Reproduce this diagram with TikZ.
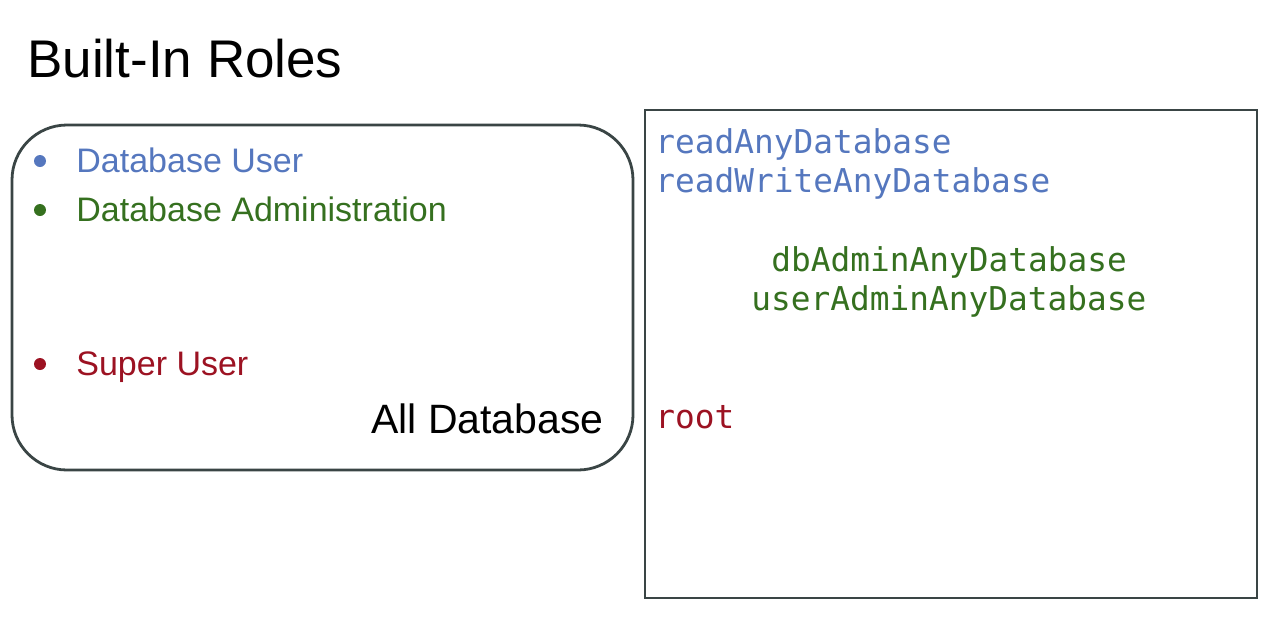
\documentclass[tikz,border=0pt]{standalone}
\usepackage{fontspec}
\setmainfont{Liberation Sans}
\setmonofont{DejaVu Sans Mono}
\usepackage{xcolor}
\usetikzlibrary{positioning}
\definecolor{userblue}{HTML}{5577BE}
\definecolor{admingreen}{HTML}{35701F}
\definecolor{superred}{HTML}{9C1222}
\definecolor{boxgray}{HTML}{3A4545}
\def\allbox{(12,125) rectangle (633,470)}
\def\rolebox{(645,110) rectangle (1257,598)}
\tikzset{
role/.style={anchor=base west, inner sep=0pt, font=\fontsize{34}{40}\selectfont},
code/.style={anchor=base west, inner sep=0pt, font=\ttfamily\fontsize{32.8}{38}\selectfont},
bullet/.style={circle, inner sep=0pt, minimum size=12pt}
}

\begin{document}
\begin{tikzpicture}[x=1pt,y=-1pt,line width=2.8pt]
	\useasboundingbox (0,0) rectangle (1269,619);
	\node[anchor=base west, inner sep=0pt, font=\fontsize{53}{60}\selectfont] (title) at (26,77) {Built-In Roles};
	% the all database box
	\draw[boxgray, rounded corners=55pt] \allbox;
	\node[role, userblue] (dbuser) at (75,172) {Database User};
	\node[role, admingreen, below=49pt of dbuser.base west, anchor=base west] (dbadmin) {Database Administration};
	\node[role, superred, below=154pt of dbadmin.base west, anchor=base west] (superuser) {Super User};
	\node[bullet, fill=userblue] (b1) at ([xshift=-35pt,yshift=11pt]dbuser.base west) {};
	\node[bullet, fill=admingreen] (b2) at ([xshift=-35pt,yshift=11pt]dbadmin.base west) {};
	\node[bullet, fill=superred] (b3) at ([xshift=-35pt,yshift=11pt]superuser.base west) {};
	\node[anchor=base east, inner sep=0pt, font=\fontsize{41}{48}\selectfont] (alldb) at (605,433) {All Database};
	% the roles box
	\draw[boxgray] \rolebox;
	\node[code, userblue] (readany) at (654,153) {readAnyDatabase};
	\node[code, userblue, below=39pt of readany.base west, anchor=base west] (readwrite) {readWriteAnyDatabase};
	\node[code, admingreen] (dbadminany) at (770,271) {dbAdminAnyDatabase};
	\node[code, admingreen, below=39pt of dbadminany.base west, xshift=-20pt, anchor=base west] (useradminany) {userAdminAnyDatabase};
	\node[code, superred] (root) at (654,428) {root};
\end{tikzpicture}
\end{document}
